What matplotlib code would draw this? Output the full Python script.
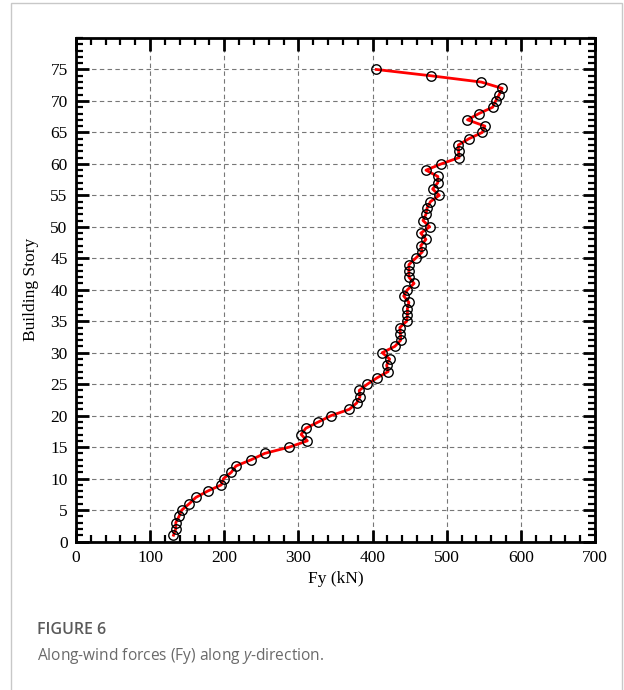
import matplotlib
matplotlib.use("Agg")
import matplotlib.pyplot as plt
from matplotlib.ticker import MultipleLocator
from matplotlib.patches import Rectangle

stories = list(range(1, 76))
fy_kn = [131.5, 134.6, 134.6, 139, 142.7, 152.7, 161.6, 177.4, 196, 199,
         209.5, 215.7, 236.5, 254.5, 287.8, 312, 303.6, 310, 327, 344,
         368.6, 378.5, 383, 382, 393, 406, 421, 419, 423, 413,
         430, 438, 437.6, 436.8, 446, 447, 447, 449, 442, 447,
         456, 449, 449, 449, 458, 467, 465, 472, 465, 477,
         468, 472, 473.6, 478, 490, 481, 488, 488, 472, 492.7,
         516.7, 516, 515.7, 530, 548, 551.5, 528, 543.5, 562, 566,
         570.7, 574.8, 546.6, 478.5, 405]

x_ticks = [0, 100, 200, 300, 400, 500, 600, 700]
y_ticks = [0, 5, 10, 15, 20, 25, 30, 35, 40, 45, 50, 55, 60, 65, 70, 75]
x_labels = [str(v) for v in x_ticks]
y_labels = [str(v) for v in y_ticks]

SERIF = ["Liberation Serif", "DejaVu Serif"]
plt.rcParams["font.family"] = SERIF
plt.rcParams["mathtext.fontset"] = "custom"
plt.rcParams["mathtext.rm"] = "Open Sans"
plt.rcParams["mathtext.it"] = "Open Sans:italic"

W, H = 624, 690
fig = plt.figure(figsize=(W / 100, H / 100), dpi=100)

# outer light border
fig.patches.append(Rectangle((11 / W, -0.05), (622 - 11) / W, 1 - 3 / H + 0.05,
                             transform=fig.transFigure, fill=False,
                             edgecolor="#c8c8c8", linewidth=1.0))

ax = fig.add_axes([76 / W, 1 - 541.5 / H, (595 - 76) / W, (541.5 - 38) / H])
ax.plot(fy_kn, stories, color="#ff0000", linewidth=2.0, marker="o",
        markersize=6.8, markerfacecolor="none", markeredgecolor="black",
        markeredgewidth=1.0, zorder=3)

ax.set_xlim(0, 700)
ax.set_ylim(0, 80)
ax.set_xticks(x_ticks)
ax.set_xticklabels(x_labels, fontfamily=SERIF, fontsize=12.5)
ax.set_yticks(y_ticks)
ax.set_yticklabels(y_labels, fontfamily=SERIF, fontsize=12.5)
ax.xaxis.set_minor_locator(MultipleLocator(20))
ax.yaxis.set_minor_locator(MultipleLocator(1))
ax.grid(True, which="major", linestyle=(0, (4, 3)), color="#777777", linewidth=0.8)
ax.set_axisbelow(True)

for s in ax.spines.values():
    s.set_linewidth(2.0)
ax.tick_params(which="major", direction="in", length=9, width=2.0,
               top=True, right=True, pad=6)
ax.tick_params(which="minor", direction="in", length=5, width=1.6,
               top=True, right=True)

ax.set_xlabel("Fy (kN)", fontfamily=SERIF, fontsize=12.5, labelpad=4)
ax.set_ylabel("Building Story", fontfamily=SERIF, fontsize=12.5, labelpad=8)

fig.text(37 / W, 1 - 630 / H, "FIGURE 6", fontfamily="Open Sans", fontsize=11.5,
         color="#5a5a5a", va="center", ha="left", fontweight="semibold")
fig.text(37 / W, 1 - 656 / H, "Along-wind forces (Fy) along $\\mathit{y}$-direction.",
         fontfamily="Open Sans", fontsize=11.2, color="#6a6a6a", va="center", ha="left")

fig.savefig("out.png", dpi=100)
